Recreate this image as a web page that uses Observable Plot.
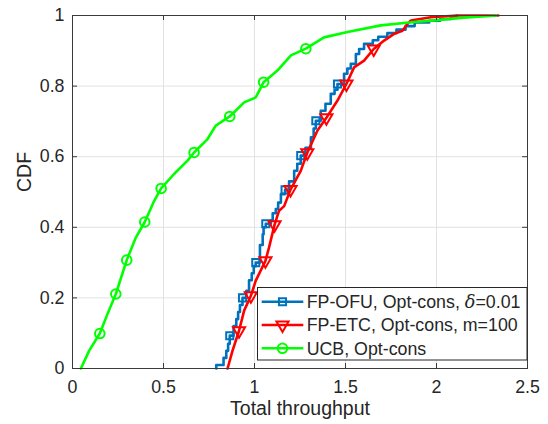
<!DOCTYPE html>
<html><head><meta charset="utf-8">
<script src="https://cdn.jsdelivr.net/npm/d3@7"></script>
<script src="https://cdn.jsdelivr.net/npm/@observablehq/plot@0.6"></script>
<style>body{margin:0;background:#fff;} #chart{width:548px;height:424px;position:relative;}</style>
</head><body><div id="chart"></div>
<script>
const xTicks = [0, 0.5, 1, 1.5, 2, 2.5];
const yTicks = [0, 0.2, 0.4, 0.6, 0.8, 1];
const xTickLabels = ["0", "0.5", "1", "1.5", "2", "2.5"];
const yTickLabels = ["0", "0.2", "0.4", "0.6", "0.8", "1"];
const xLabel = "Total throughput";
const yLabel = "CDF";
const seriesNames = ["FP-OFU, Opt-cons, ", "FP-ETC, Opt-cons, m=100", "UCB, Opt-cons"];
const colors = ["#0072BD", "#FF0000", "#00FF00"];

// FP-OFU (blue) empirical CDF (step)
const ofuX = [0.79,0.79,0.83,0.845,0.855,0.864,0.885,0.90,0.91,0.92,0.934,0.955,0.97,0.985,0.996,1.007,1.03,1.045,1.05,1.062,1.09,1.10,1.117,1.13,1.145,1.168,1.19,1.218,1.235,1.254,1.28,1.31,1.325,1.337,1.364,1.39,1.419,1.44,1.456,1.492,1.51,1.529,1.557,1.575,1.602,1.65,1.68,1.73,1.78,1.83,1.88,1.96,2.02,2.08,2.11];
const ofuY = [0,0.01,0.03,0.05,0.07,0.093,0.12,0.14,0.16,0.18,0.20,0.22,0.25,0.27,0.29,0.30,0.35,0.38,0.40,0.41,0.42,0.44,0.452,0.47,0.494,0.506,0.53,0.56,0.58,0.603,0.625,0.655,0.68,0.702,0.73,0.75,0.778,0.79,0.806,0.835,0.85,0.863,0.891,0.905,0.92,0.93,0.94,0.95,0.96,0.97,0.98,0.985,0.99,0.995,1.0];
const ofuMarkX = [0.864,0.934,1.007,1.062,1.168,1.254,1.337,1.456];
const ofuMarkY = [0.093,0.20,0.30,0.41,0.506,0.603,0.702,0.806];

// FP-ETC (red)
const etcX = [0.852,0.879,0.915,0.943,0.98,1.007,1.06,1.08,1.11,1.135,1.163,1.198,1.254,1.29,1.346,1.395,1.456,1.505,1.547,1.602,1.655,1.712,1.767,1.813,1.84,1.859,1.969,2.115,2.34];
const etcY = [0,0.05,0.107,0.164,0.206,0.249,0.305,0.343,0.407,0.447,0.46,0.507,0.56,0.611,0.674,0.71,0.759,0.806,0.853,0.872,0.905,0.929,0.948,0.957,0.976,0.986,0.995,1.0,1.0];
const etcMarkX = [0.915,0.98,1.06,1.11,1.198,1.29,1.395,1.505,1.655];
const etcMarkY = [0.107,0.206,0.305,0.407,0.507,0.611,0.71,0.806,0.905];

// UCB (green)
const ucbX = [0.046,0.091,0.15,0.192,0.238,0.298,0.348,0.397,0.449,0.487,0.558,0.632,0.668,0.742,0.787,0.864,0.943,1.007,1.05,1.126,1.2,1.282,1.382,1.511,1.694,1.85,2.0,2.15,2.33];
const ucbY = [0,0.05,0.099,0.154,0.211,0.307,0.371,0.415,0.475,0.51,0.551,0.589,0.612,0.65,0.688,0.714,0.754,0.768,0.811,0.844,0.887,0.906,0.938,0.953,0.972,0.98,0.987,0.994,1.0];
const ucbMarkX = [0.15,0.238,0.298,0.397,0.487,0.668,0.864,1.05,1.282];
const ucbMarkY = [0.099,0.211,0.307,0.415,0.51,0.612,0.714,0.811,0.906];

const pts = (xs, ys) => xs.map((x, i) => ({x, y: ys[i]}));
const ofu = pts(ofuX, ofuY), ofuM = pts(ofuMarkX, ofuMarkY);
const etc = pts(etcX, etcY), etcM = pts(etcMarkX, etcMarkY);
const ucb = pts(ucbX, ucbY), ucbM = pts(ucbMarkX, ucbMarkY);

const W = 548, H = 424, mL = 72, mR = 21, mT = 15, mB = 56;
const plotH = H - mT - mB, plotW = W - mL - mR, tk = 5;
const txt = "#262626", font = "'Liberation Sans', Arial, Helvetica, sans-serif";

const chart = Plot.plot({
  width: W, height: H,
  marginLeft: mL, marginRight: mR, marginTop: mT, marginBottom: mB,
  style: {fontFamily: font, fontSize: "17.8px", color: txt, background: "#fff"},
  x: {domain: [0, 2.5], axis: null},
  y: {domain: [0, 1], axis: null},
  marks: [
    Plot.gridX(xTicks, {stroke: "#e2e2e2", strokeOpacity: 1, strokeWidth: 1}),
    Plot.gridY(yTicks, {stroke: "#e2e2e2", strokeOpacity: 1, strokeWidth: 1}),
    Plot.line(ofu, {x: "x", y: "y", stroke: colors[0], strokeWidth: 2.6, curve: "step-after"}),
    Plot.dot(ofuM, {x: "x", y: "y", symbol: "square", r: 4, stroke: colors[0], fill: "none", strokeWidth: 2}),
    Plot.line(etc, {x: "x", y: "y", stroke: colors[1], strokeWidth: 2.6}),
    Plot.dot(etcM, {x: "x", y: "y", symbol: "triangle", rotate: 180, r: 4.5, stroke: colors[1], fill: "none", strokeWidth: 2}),
    Plot.line(ucb, {x: "x", y: "y", stroke: colors[2], strokeWidth: 2.6}),
    Plot.dot(ucbM, {x: "x", y: "y", symbol: "circle", r: 4.8, stroke: colors[2], fill: "none", strokeWidth: 2}),
    Plot.frame({stroke: "#3a3a3a", strokeWidth: 1}),
    Plot.tickX(xTicks, {x: d => d, insetTop: plotH - tk, stroke: "#3a3a3a"}),
    Plot.tickX(xTicks, {x: d => d, insetBottom: plotH - tk, stroke: "#3a3a3a"}),
    Plot.tickY(yTicks, {y: d => d, insetRight: plotW - tk, stroke: "#3a3a3a"}),
    Plot.tickY(yTicks, {y: d => d, insetLeft: plotW - tk, stroke: "#3a3a3a"}),
    Plot.axisX(xTicks, {tickSize: 0, tickPadding: 11.5, tickFormat: d => xTickLabels[xTicks.indexOf(d)], fontSize: 17.8, fill: txt, label: null}),
    Plot.axisY(yTicks, {tickSize: 0, tickPadding: 8, tickFormat: d => yTickLabels[yTicks.indexOf(d)], fontSize: 17.8, fill: txt, label: null}),
    Plot.text([xLabel], {text: d => d, frameAnchor: "bottom", dy: 46.5, fontSize: 19.5, fill: txt}),
    Plot.text([yLabel], {text: d => d, frameAnchor: "left", dx: -48, rotate: -90, fontSize: 19.5, fill: txt})
  ]
});
document.getElementById("chart").appendChild(chart);

// Legend (inside the axes, bottom-right)
const svg = d3.select(chart);
const lg = svg.append("g").attr("font-family", font).attr("font-size", 17.8).attr("fill", txt).attr("text-anchor", "start");
const lx = 257.5, ly = 287.5, lw = 269.5, lh = 72.5;
lg.append("rect").attr("x", lx).attr("y", ly).attr("width", lw).attr("height", lh)
  .attr("fill", "#fff").attr("stroke", "#262626").attr("stroke-width", 1);
const rowY = [301.7, 325, 348.3];
const sym = [d3.symbolSquare, d3.symbolTriangle, d3.symbolCircle];
const rs = [4, 4.5, 4.8];
rowY.forEach((yy, i) => {
  lg.append("line").attr("x1", 261.7).attr("x2", 303.3).attr("y1", yy).attr("y2", yy)
    .attr("stroke", colors[i]).attr("stroke-width", 2.6);
  lg.append("path").attr("d", d3.symbol(sym[i], Math.PI * rs[i] * rs[i])())
    .attr("transform", `translate(282.5,${yy})` + (i === 1 ? " rotate(180)" : ""))
    .attr("fill", "none").attr("stroke", colors[i]).attr("stroke-width", 2);
  const t = lg.append("text").attr("x", 306.7).attr("y", yy).attr("dy", "0.35em").attr("text-anchor", "start").text(seriesNames[i]);
  if (i === 0) {
    t.append("tspan").attr("font-style", "italic").attr("font-family", "'DejaVu Serif', serif").text("δ");
    t.append("tspan").text("=0.01");
  }
});
</script>
</body></html>
